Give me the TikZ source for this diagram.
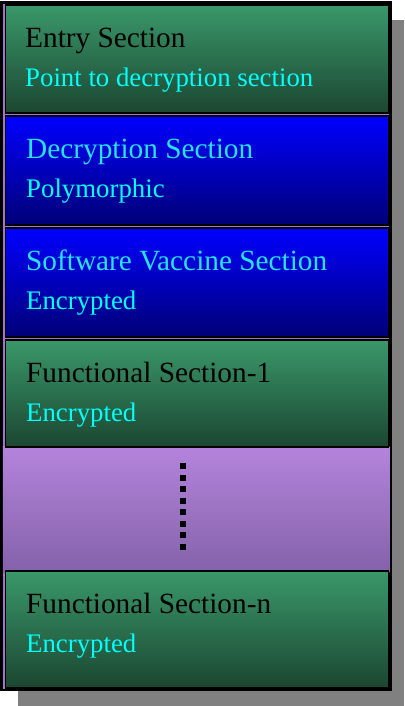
\documentclass[tikz,border=0pt]{standalone}
\usepackage{fontspec}
\setmainfont{Liberation Serif}
\definecolor{grtop}{RGB}{58,152,106}
\definecolor{grbot}{RGB}{27,70,49}
\definecolor{bltop}{RGB}{0,0,255}
\definecolor{blbot}{RGB}{0,0,118}
\definecolor{putop}{RGB}{180,132,220}
\definecolor{pubot}{RGB}{132,98,170}
\definecolor{pumid}{RGB}{160,118,200}
\definecolor{cyantext}{RGB}{0,255,255}
\definecolor{bluetitle}{RGB}{40,225,245}
\definecolor{shadowgray}{RGB}{128,128,128}
\begin{document}
\begin{tikzpicture}[x=1pt,y=-1pt,
  shadowbox/.style={fill=shadowgray, draw=none},
  framebox/.style={draw=black, line width=2.5pt, fill=pumid},
  gapfill/.style={draw=none, top color=putop, bottom color=pubot},
  secbox/.style={draw=black, line width=1.6pt, inner sep=0pt, outer sep=0pt, anchor=north west, minimum width=383pt},
  greenbox/.style={secbox, top color=grtop, bottom color=grbot},
  bluebox/.style={secbox, top color=bltop, bottom color=blbot},
  titletext/.style={anchor=base west, inner sep=0pt, font=\fontsize{29.3}{34}\selectfont},
  subtext/.style={anchor=base west, inner sep=0pt, font=\fontsize{26.8}{31}\selectfont, text=cyantext},
  dotline/.style={line width=6pt, dash pattern=on 6pt off 5.57pt}
]
\useasboundingbox (0,0) rectangle (404,706);
\path[shadowbox] (18,20) rectangle (404,706);
\path[framebox] (1.5,2.5) rectangle (390.5,690);
\path[gapfill] (2.75,446) rectangle (389.25,572);

\node[greenbox, minimum height=108pt] (entry) at (5.5,5) {};
\node[bluebox, minimum height=109pt] (decr) at (5.5,116) {};
\node[bluebox, minimum height=109pt] (vacc) at (5.5,228) {};
\node[greenbox, minimum height=107pt] (func1) at (5.5,340) {};
\node[greenbox, minimum height=117pt] (funcn) at (5.5,571) {};

\node[titletext, text=black] (entryt) at (25,48) {Entry Section};
\node[subtext] (entrys) at (25,87) {Point to decryption section};
\node[titletext, text=bluetitle] (decrt) at (26,158) {Decryption Section};
\node[subtext] (decrs) at (26,197) {Polymorphic};
\node[titletext, text=bluetitle] (vacct) at (26,270) {Software Vaccine Section};
\node[subtext] (vaccs) at (26,309) {Encrypted};
\node[titletext, text=black] (func1t) at (26,382) {Functional Section-1};
\node[subtext] (func1s) at (26,421) {Encrypted};
\node[titletext, text=black] (funcnt) at (26,613) {Functional Section-n};
\node[subtext] (funcns) at (26,652) {Encrypted};

\coordinate (dtop) at (183,463);
\coordinate (dbot) at (183,550);
\draw[dotline] (dtop) -- (dbot);
\end{tikzpicture}
\end{document}
